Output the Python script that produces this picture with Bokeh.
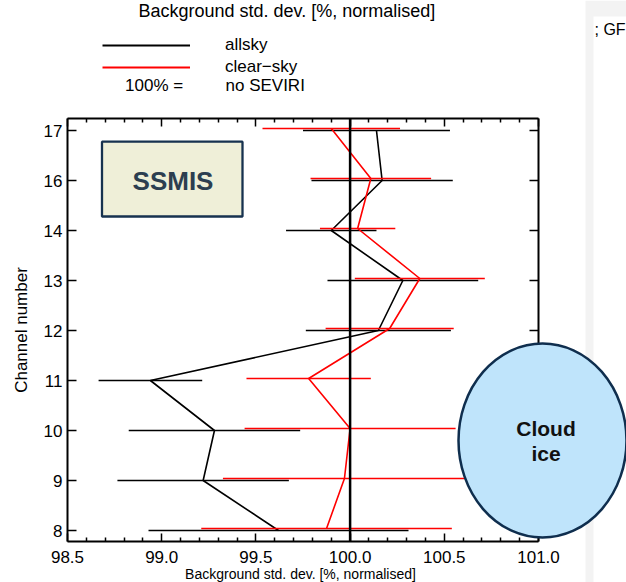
import numpy as np
from bokeh.plotting import figure
from bokeh.models import (Range1d, FixedTicker, LinearAxis, Span, Label,
                          Legend, LegendItem, ColumnDataSource)
from bokeh.embed import file_html
from bokeh.resources import INLINE

# ---------------- data ----------------
channels = ["8", "9", "10", "11", "12", "13", "14", "16", "17"]
allsky_mean = [99.62, 99.22, 99.28, 98.94, 100.15, 100.28, 99.90, 100.17, 100.14]
allsky_err = [0.69, 0.455, 0.455, 0.275, 0.385, 0.40, 0.24, 0.375, 0.39]
clear_mean = [99.875, 99.97, 100.0, 99.78, 100.21, 100.37, 100.04, 100.11, 99.90]
clear_err = [0.665, 0.645, 0.56, 0.33, 0.34, 0.345, 0.20, 0.32, 0.365]
x_ticks = [98.5, 99.0, 99.5, 100.0, 100.5, 101.0]
x_tick_labels = ["98.5", "99.0", "99.5", "100.0", "100.5", "101.0"]
reference_value = 100.0

FONT = "Liberation Sans"
RED = "#ff0000"
W, H = 626, 582

ypos = np.arange(len(channels), dtype=float)
red_off = 0.04

am = np.array(allsky_mean); ae = np.array(allsky_err)
cm = np.array(clear_mean); ce = np.array(clear_err)
black_src = ColumnDataSource(dict(y=ypos, x=am, lo=am - ae, hi=am + ae))
red_src = ColumnDataSource(dict(y=ypos + red_off, x=cm, lo=cm - ce, hi=cm + ce))

# ---------------- main chart ----------------
p = figure(width=W, height=H, x_range=Range1d(98.5, 101.0), y_range=Range1d(-0.22, 8.24),
           output_backend="svg", toolbar_location=None,
           min_border_left=67, min_border_right=88, min_border_top=118, min_border_bottom=41)
p.xgrid.visible = False
p.ygrid.visible = False
p.outline_line_color = None
p.background_fill_color = "white"
p.border_fill_color = "white"

x_minor = [round(v, 1) for v in np.arange(98.6, 101.0, 0.1) if round(v, 1) not in x_ticks]
xticker = FixedTicker(ticks=x_ticks, minor_ticks=x_minor)
yticker = FixedTicker(ticks=list(ypos), minor_ticks=[])


def style_axis(ax, tick_in, minor_in):
    ax.axis_line_width = 2
    ax.axis_line_color = "black"
    ax.major_tick_in = tick_in
    ax.major_tick_out = 0
    ax.minor_tick_in = minor_in
    ax.minor_tick_out = 0
    ax.major_tick_line_width = 1.5
    ax.minor_tick_line_width = 1.5
    ax.major_tick_line_color = "black"
    ax.minor_tick_line_color = "black"
    ax.major_label_text_font = FONT
    ax.major_label_text_font_size = "17px"
    ax.major_label_text_color = "black"


xb = p.xaxis[0]
xb.ticker = xticker
xb.major_label_overrides = {t: l for t, l in zip(x_ticks, x_tick_labels)}
style_axis(xb, 8, 4)
xb.major_label_standoff = 9

yl = p.yaxis[0]
yl.ticker = yticker
yl.major_label_overrides = {float(i): c for i, c in zip(ypos, channels)}
style_axis(yl, 9, 0)
yl.major_label_standoff = 5
yl.axis_label = "Channel number"
yl.axis_label_text_font = FONT
yl.axis_label_text_font_size = "17px"
yl.axis_label_text_font_style = "normal"
yl.axis_label_text_color = "black"
yl.axis_label_standoff = 10

xt = LinearAxis(ticker=xticker, major_label_overrides={t: "" for t in x_ticks})
style_axis(xt, 8, 4)
xt.major_label_text_color = None
p.add_layout(xt, "above")

yr = LinearAxis(ticker=yticker, major_label_overrides={float(i): "" for i in ypos})
style_axis(yr, 9, 0)
yr.major_label_text_color = None
p.add_layout(yr, "right")

# reference line at 100 %
p.add_layout(Span(location=reference_value, dimension="height", line_color="black", line_width=2.5))

# allsky
p.segment(x0="lo", x1="hi", y0="y", y1="y", source=black_src, line_color="black", line_width=1.7)
p.line(x="x", y="y", source=black_src, line_color="black", line_width=1.6)
# clear-sky
p.segment(x0="lo", x1="hi", y0="y", y1="y", source=red_src, line_color=RED, line_width=1.7)
p.line(x="x", y="y", source=red_src, line_color=RED, line_width=1.6)

# ---------------- overlay (slide decorations, legend, annotations) ----------------
ov = figure(width=W, height=H, x_range=Range1d(0, W), y_range=Range1d(H, 0),
            output_backend="svg", toolbar_location=None, x_axis_type=None, y_axis_type=None,
            min_border=0, min_border_left=0, min_border_right=0, min_border_top=0, min_border_bottom=0)
ov.xgrid.visible = False
ov.ygrid.visible = False
ov.outline_line_color = None
ov.background_fill_alpha = 0
ov.border_fill_alpha = 0
ov.styles = {"position": "absolute", "left": "0px", "top": "0px"}


def txt(text, x, y, size="17px", align="left", bold=False, color="black", angle=0):
    ov.add_layout(Label(x=x, y=y, text=text, text_font=FONT, text_font_size=size, text_align=align,
                        text_baseline="middle", text_color=color,
                        text_font_style="bold" if bold else "normal", angle=angle))


# right-hand slide panel
ov.quad(left=585, right=W, top=0, bottom=H, fill_color="#f3f3f3", line_color=None)
ov.quad(left=593, right=W, top=16, bottom=H, fill_color="white", line_color=None)
txt("; GF", 594, 28.5, size="16px")

# legend (proxy renderers kept off-canvas; the legend draws the sample lines)
lb = ov.line(x=[-50, -40], y=[-50, -50], line_color="black", line_width=2.2)
lr = ov.line(x=[-50, -40], y=[-50, -50], line_color=RED, line_width=2.2)
legend = Legend(items=[LegendItem(label="allsky", renderers=[lb]),
                       LegendItem(label="clear\u2212sky", renderers=[lr])],
                location=(102, 505), padding=0, margin=0, spacing=2,
                glyph_width=88, glyph_height=20, label_height=20, label_standoff=35,
                label_text_font=FONT, label_text_font_size="17px", label_text_color="black",
                border_line_color=None, background_fill_alpha=0)
ov.add_layout(legend)

txt("Background std. dev. [%, normalised]", 138, 10, size="18px")
txt("100% =", 182.7, 85, align="right")
txt("no SEVIRI", 225, 85)
txt("Background std. dev. [%, normalised]", 300, 573, size="14px", align="center")

# SSMIS box
ov.quad(left=101.5, right=242, top=141.2, bottom=216, fill_color="#efefd8",
        line_color="#17324f", line_width=2.3)
txt("SSMIS", 172.5, 180, size="26px", align="center", bold=True, color="#2c3e50")

# Cloud ice ellipse
ov.ellipse(x=542, y=440, width=168, height=194, fill_color="#bfe4fb",
           line_color="#0f2e4e", line_width=2.5)
txt("Cloud", 545.5, 428, size="21px", align="center", bold=True, color="#111111")
txt("ice", 545.5, 453, size="21px", align="center", bold=True, color="#111111")

open("out.html", "w").write(file_html([p, ov], INLINE))
